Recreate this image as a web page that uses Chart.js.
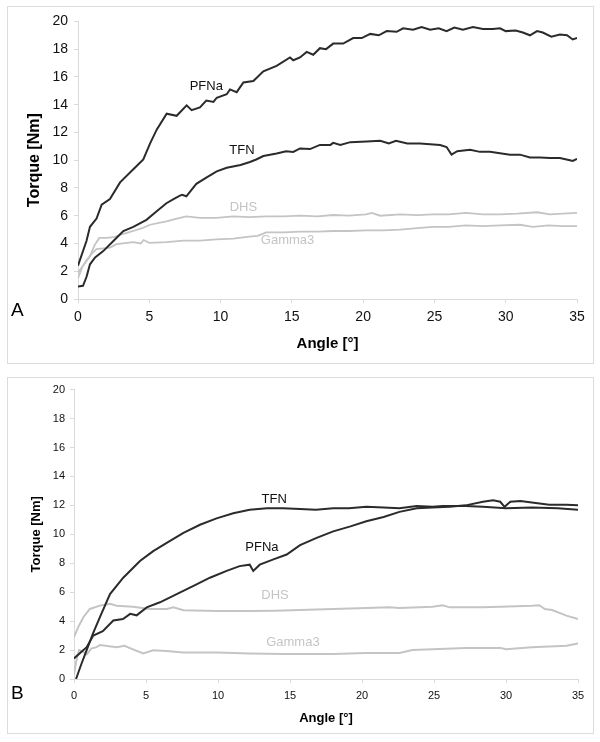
<!DOCTYPE html>
<html>
<head>
<meta charset="utf-8">
<script src="https://cdn.jsdelivr.net/npm/chart.js@4/dist/chart.umd.min.js"></script>
<style>
  html, body { margin: 0; padding: 0; background: #fff; }
  body { width: 600px; height: 742px; position: relative; overflow: hidden; font-family: "Liberation Sans", Arial, sans-serif; }
  .panel { position: absolute; border: 1px solid #dcdcdc; background: #fff; }
  #boxA { left: 7px; top: 6px; width: 585px; height: 356px; }
  #boxB { left: 7px; top: 377px; width: 585px; height: 355px; }
  .panel canvas { position: absolute; left: 0; top: 0; }
  .tag { position: absolute; font-size: 19px; color: #000; line-height: 1; }
</style>
</head>
<body>
<div class="panel" id="boxA"><canvas id="chartA" width="585" height="356"></canvas></div>
<div class="panel" id="boxB"><canvas id="chartB" width="585" height="355"></canvas></div>
<div class="tag" style="left:11px;top:300px;">A</div>
<div class="tag" style="left:11px;top:683px;">B</div>
<script>
// ---------- DATA (angle [°], torque [Nm]) ----------
// Panel A
const A_PFNa = [[0,2.4],[0.6,4.2],[0.84,5.2],[1.3,5.8],[1.66,6.8],[2.24,7.2],[2.95,8.4],[3.88,9.35],[4.58,10.05],[5.05,11.2],[5.52,12.2],[6.22,13.35],[6.92,13.2],[7.62,13.95],[7.97,13.6],[8.55,13.8],[9.0,14.3],[9.5,14.2],[9.73,14.5],[10.43,14.75],[10.66,15.1],[11.13,14.9],[11.6,15.6],[12.3,15.7],[13.0,16.4],[13.93,16.8],[14.87,17.4],[15.1,17.2],[15.57,17.4],[16.04,17.8],[16.5,17.6],[16.97,18.07],[17.4,18.0],[17.9,18.4],[18.6,18.4],[19.3,18.8],[19.9,18.8],[20.5,19.1],[21.1,19.0],[21.65,19.3],[22.35,19.25],[22.8,19.5],[23.5,19.4],[24.1,19.6],[24.7,19.4],[25.3,19.5],[25.85,19.3],[26.4,19.55],[27.0,19.4],[27.7,19.6],[28.4,19.45],[29.1,19.45],[29.6,19.5],[30.0,19.3],[30.7,19.35],[31.2,19.2],[31.7,19.0],[32.2,19.3],[32.6,19.2],[33.2,18.9],[33.8,19.05],[34.3,19.0],[34.7,18.7],[35,18.8]];
const A_TFN = [[0,0.9],[0.35,0.95],[0.6,1.6],[0.84,2.5],[1.2,3.0],[1.77,3.45],[2.5,4.2],[3.18,4.9],[3.88,5.2],[4.8,5.7],[5.5,6.3],[6.2,6.9],[6.7,7.2],[7.15,7.45],[7.3,7.5],[7.6,7.4],[8.3,8.3],[9.0,8.75],[9.73,9.2],[10.43,9.45],[11.4,9.65],[12.06,9.87],[12.5,10.05],[13.0,10.3],[13.93,10.48],[14.6,10.65],[15.1,10.6],[15.57,10.85],[16.27,10.8],[16.97,11.1],[17.7,11.1],[17.9,11.25],[18.4,11.1],[19.1,11.3],[20.25,11.35],[21.2,11.4],[21.8,11.2],[22.3,11.4],[23.1,11.2],[24.0,11.2],[24.7,11.15],[25.4,11.1],[25.85,10.95],[26.2,10.4],[26.6,10.65],[27.5,10.75],[28.2,10.6],[28.9,10.6],[29.6,10.5],[30.3,10.4],[31.0,10.4],[31.7,10.2],[32.4,10.2],[33.1,10.15],[33.8,10.15],[34.5,10.0],[34.7,9.95],[35,10.1]];
const A_DHS = [[0,1.9],[0.35,2.4],[0.8,3.0],[1.2,3.95],[1.5,4.4],[2.0,4.4],[2.5,4.45],[3.2,4.7],[3.88,4.9],[4.5,5.1],[5.05,5.35],[6.2,5.6],[7.0,5.8],[7.6,5.95],[8.55,5.85],[9.7,5.85],[10.9,5.95],[12.0,5.9],[13.2,5.95],[14.4,5.95],[15.6,6.0],[16.8,5.95],[17.9,6.05],[19.0,6.0],[20.2,6.1],[20.6,6.2],[21.2,6.0],[22.6,6.1],[23.8,6.05],[24.9,6.1],[26.0,6.1],[27.2,6.2],[28.4,6.1],[29.6,6.1],[30.8,6.15],[32.2,6.25],[33.1,6.1],[34.0,6.15],[35,6.2]];
const A_Gamma3 = [[0,1.5],[0.3,2.3],[0.6,2.8],[1.0,3.3],[1.3,3.6],[2.25,3.7],[2.7,3.95],[3.88,4.1],[4.4,4.0],[4.6,4.25],[5.0,4.05],[6.2,4.1],[7.4,4.2],[8.55,4.2],[9.7,4.3],[10.9,4.35],[12.0,4.5],[12.6,4.55],[13.2,4.8],[14.4,4.8],[15.6,4.85],[16.8,4.85],[17.9,4.9],[19.0,4.9],[20.2,4.95],[21.4,4.95],[22.6,5.0],[23.8,5.1],[24.9,5.2],[26.0,5.2],[27.2,5.3],[28.4,5.25],[29.6,5.3],[31.0,5.35],[31.9,5.2],[33.0,5.3],[34.0,5.25],[35,5.25]];

// Panel B
const B_TFN = [[0.14,0],[0.5,1.0],[0.88,2.0],[1.3,3.1],[1.8,4.27],[2.5,5.87],[3.42,7.0],[4.58,8.15],[5.5,8.84],[6.44,9.4],[7.6,10.1],[8.75,10.66],[9.9,11.1],[11.06,11.46],[12.2,11.7],[13.4,11.8],[14.5,11.8],[15.7,11.75],[16.8,11.7],[18.0,11.8],[19.1,11.8],[20.3,11.9],[21.5,11.85],[22.6,11.8],[23.8,11.95],[24.9,11.9],[25.6,11.95],[27.2,11.95],[28.4,11.9],[30.0,11.8],[31.8,11.85],[33.6,11.8],[35,11.7]];
const B_PFNa = [[0,1.42],[0.88,2.2],[1.34,3.0],[2.0,3.3],[2.73,4.04],[3.4,4.15],[3.9,4.5],[4.35,4.4],[5.05,4.95],[5.97,5.3],[7.13,5.87],[8.3,6.44],[9.44,7.0],[10.6,7.47],[11.5,7.8],[12.2,7.9],[12.45,7.47],[12.9,7.9],[13.85,8.27],[14.77,8.6],[15.7,9.25],[16.85,9.75],[18.0,10.2],[19.2,10.55],[20.3,10.9],[21.5,11.2],[22.6,11.55],[23.8,11.8],[24.9,11.85],[26.1,11.9],[27.2,12.0],[28.4,12.25],[29.1,12.35],[29.6,12.25],[29.9,11.9],[30.3,12.25],[31.0,12.3],[31.8,12.2],[33.0,12.05],[34.2,12.05],[35,12.0]];
const B_DHS = [[0,2.9],[0.3,3.6],[0.65,4.27],[1.1,4.84],[1.8,5.07],[2.5,5.2],[2.97,5.07],[4.1,5.0],[5.28,4.84],[6.44,4.84],[6.9,4.95],[7.6,4.75],[9.9,4.7],[12.2,4.7],[14.0,4.72],[15.7,4.77],[18.0,4.84],[20.3,4.9],[21.9,4.95],[22.6,4.9],[24.9,5.0],[25.6,5.1],[26.1,4.95],[28.4,4.95],[29.6,5.0],[31.8,5.07],[32.3,5.1],[32.7,4.84],[33.2,4.77],[34.2,4.38],[35,4.15]];
const B_Gamma3 = [[0,0.3],[0.15,1.2],[0.35,2.0],[0.6,1.9],[0.88,1.7],[1.2,2.1],[1.57,2.2],[1.8,2.35],[2.97,2.2],[3.5,2.3],[4.1,2.05],[4.8,1.76],[5.5,1.98],[6.44,1.94],[7.6,1.83],[9.9,1.83],[12.2,1.76],[14.5,1.72],[15.7,1.72],[18.0,1.72],[20.3,1.8],[22.6,1.8],[23.5,2.0],[24.9,2.05],[27.2,2.15],[29.6,2.15],[30.0,2.05],[31.8,2.2],[34.2,2.3],[35,2.45]];

const X_TICK_STEP = 5;
const Y_TICK_STEP = 2;
const SERIES_NAMES = ['PFNa', 'TFN', 'DHS', 'Gamma3'];

// Curve-label anchors (data coordinates), kept apart from the data
const A_LABELS = [['PFNa', 9.0, 15.3], ['TFN', 11.5, 10.7], ['DHS', 11.6, 6.6], ['Gamma3', 14.7, 4.25]];
const B_LABELS = [['TFN', 13.9, 12.4], ['PFNa', 13.05, 9.1], ['DHS', 13.96, 5.75], ['Gamma3', 15.2, 2.53]];

// ---------- STYLE ----------
const FONT = '"Liberation Sans", Arial, sans-serif';
const DARK = '#2b2b2b';
const GRAY = '#c4c4c4';
const AXIS = '#dadada';
const colorOf = { PFNa: DARK, TFN: DARK, DHS: GRAY, Gamma3: GRAY };

const curveLabels = {
  id: 'curveLabels',
  afterDatasetsDraw(chart, args, opts) {
    const { ctx, scales: { x, y } } = chart;
    ctx.save();
    ctx.font = `${opts.size}px ${FONT}`;
    ctx.textAlign = 'center';
    ctx.textBaseline = 'middle';
    for (const [t, vx, vy] of opts.items) {
      ctx.fillStyle = colorOf[t] === GRAY ? GRAY : '#111';
      ctx.fillText(t, x.getPixelForValue(vx), y.getPixelForValue(vy));
    }
    ctx.restore();
  }
};

function toPoints(arr) { return arr.map(([a, t]) => ({ x: a, y: t })); }

function makeChart(id, series, labels, cfg) {
  const datasets = SERIES_NAMES.map((name, i) => ({
    label: name,
    data: toPoints(series[i]),
    borderColor: colorOf[name],
    borderWidth: colorOf[name] === GRAY ? cfg.lwGray : cfg.lw,
    pointRadius: 0,
    tension: 0,
    fill: false,
    order: colorOf[name] === GRAY ? 2 : 1
  }));
  return new Chart(document.getElementById(id), {
    type: 'line',
    data: { datasets },
    plugins: [curveLabels],
    options: {
      responsive: false,
      animation: false,
      events: [],
      layout: { padding: { left: 0, right: cfg.padRight, top: cfg.padTop, bottom: 0 } },
      plugins: {
        legend: { display: false },
        tooltip: { enabled: false },
        curveLabels: { items: labels, size: 13 }
      },
      scales: {
        x: {
          type: 'linear', min: 0, max: 35,
          ticks: { stepSize: X_TICK_STEP, color: '#111', font: { family: FONT, size: cfg.tickSize }, padding: cfg.xTickPad, maxRotation: 0 },
          grid: { display: true, drawOnChartArea: false, drawTicks: true, tickLength: 4, color: AXIS },
          border: { display: true, color: AXIS, width: 1 },
          title: { display: true, text: 'Angle [°]', color: '#000', font: { family: FONT, size: cfg.titleSize, weight: 'bold' }, padding: { top: 0, bottom: cfg.xTitlePad } },
          afterFit: s => { s.height = cfg.xH; }
        },
        y: {
          type: 'linear', min: 0, max: 20,
          ticks: { stepSize: Y_TICK_STEP, color: '#111', font: { family: FONT, size: cfg.tickSize }, padding: cfg.yTickPad },
          grid: { display: true, drawOnChartArea: false, drawTicks: true, tickLength: 4, color: AXIS },
          border: { display: true, color: AXIS, width: 1 },
          title: { display: true, text: 'Torque [Nm]', color: '#000', font: { family: FONT, size: cfg.ytitleSize, weight: 'bold' }, padding: { top: cfg.yTitlePad, bottom: 0 } },
          afterFit: s => { s.width = cfg.yW; }
        }
      }
    }
  });
}

makeChart('chartA', [A_PFNa, A_TFN, A_DHS, A_Gamma3], A_LABELS,
  { lw: 2, lwGray: 1.8, padRight: 16, padTop: 9, tickSize: 14, titleSize: 15, ytitleSize: 16, xTickPad: 6, yTickPad: 6, xTitlePad: 10, yTitlePad: 17, xH: 64, yW: 70 });
makeChart('chartB', [B_PFNa, B_TFN, B_DHS, B_Gamma3], B_LABELS,
  { lw: 2, lwGray: 2, padRight: 15, padTop: 9, tickSize: 11, titleSize: 13, ytitleSize: 13, xTickPad: 6, yTickPad: 5, xTitlePad: 7, yTitlePad: 21, xH: 54, yW: 66 });
</script>
</body>
</html>
